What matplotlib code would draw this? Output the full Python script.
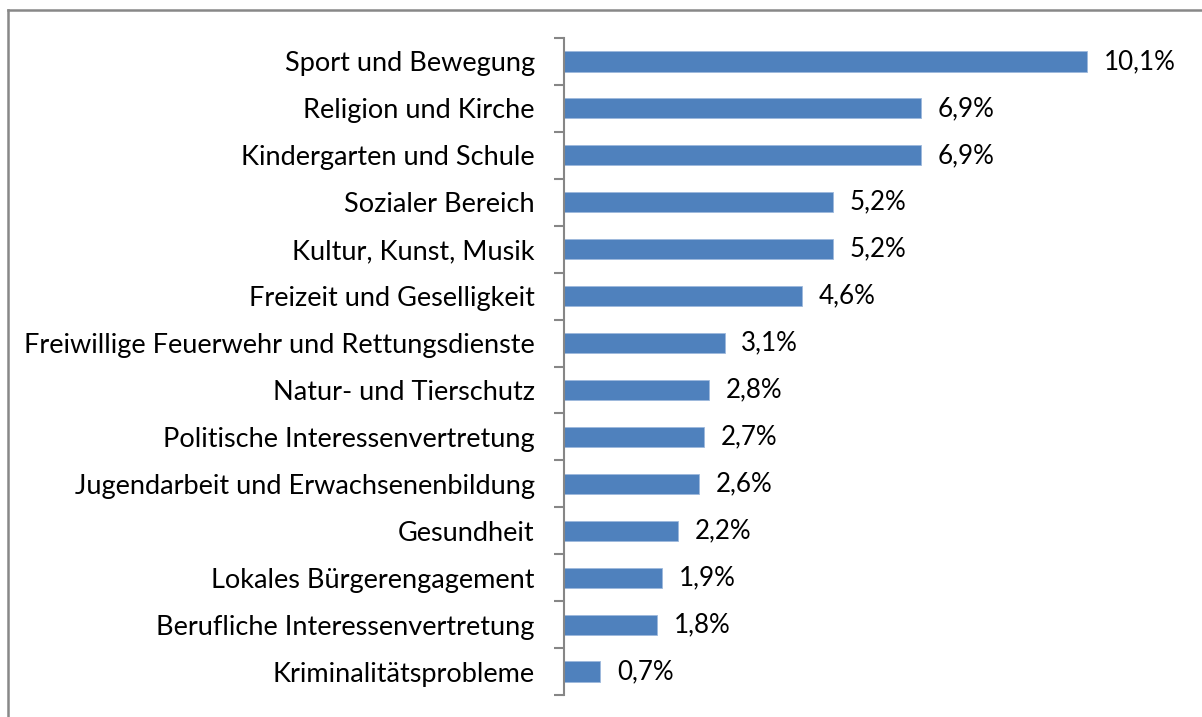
import numpy as np
import matplotlib.pyplot as plt
from matplotlib.lines import Line2D

plt.rcParams['font.family'] = ['Lato', 'DejaVu Sans']

categories = ['Sport und Bewegung', 'Religion und Kirche', 'Kindergarten und Schule',
              'Sozialer Bereich', 'Kultur, Kunst, Musik', 'Freizeit und Geselligkeit',
              'Freiwillige Feuerwehr und Rettungsdienste', 'Natur- und Tierschutz',
              'Politische Interessenvertretung', 'Jugendarbeit und Erwachsenenbildung',
              'Gesundheit', 'Lokales Bürgerengagement', 'Berufliche Interessenvertretung',
              'Kriminalitätsprobleme']
values = [10.1, 6.9, 6.9, 5.2, 5.2, 4.6, 3.1, 2.8, 2.7, 2.6, 2.2, 1.9, 1.8, 0.7]
labels = ['10,1%', '6,9%', '6,9%', '5,2%', '5,2%', '4,6%', '3,1%', '2,8%', '2,7%',
          '2,6%', '2,2%', '1,9%', '1,8%', '0,7%']

fig = plt.figure(figsize=(12.02, 7.17), dpi=100)
ax = fig.add_axes([564 / 1202, 22 / 717, 621.6 / 1202, 657 / 717])

y = np.arange(len(categories))
ax.barh(y, values, height=0.43, color='#4F81BD', edgecolor='#9DB9DC', linewidth=0.6)
for yi, v, lab in zip(y, values, labels):
    ax.text(v + 0.32, yi, lab, va='center', ha='left', fontsize=18.7)

ax.set_xlim(0, 12)
ax.set_ylim(len(categories) - 0.5, -0.5)
ax.set_yticks(y)
ax.set_yticklabels(categories, fontsize=19.5)
ax.set_yticks(np.arange(-0.5, len(categories), 1), minor=True)
ax.tick_params(axis='y', which='major', length=0, pad=21)
ax.tick_params(axis='y', which='minor', length=7, width=1.5, color='#868686')
ax.set_xticks([])
for s in ['top', 'right', 'bottom']:
    ax.spines[s].set_visible(False)
ax.spines['left'].set_color('#868686')
ax.spines['left'].set_linewidth(1.5)

# outer chart frame (left and top edges visible)
fig.add_artist(Line2D([7.5 / 1202, 7.5 / 1202], [0, 1 - 10 / 717], color='#888888',
                      linewidth=1.8, transform=fig.transFigure))
fig.add_artist(Line2D([7.5 / 1202, 1], [1 - 10 / 717, 1 - 10 / 717], color='#888888',
                      linewidth=1.8, transform=fig.transFigure))

fig.savefig('out.png', dpi=100)
